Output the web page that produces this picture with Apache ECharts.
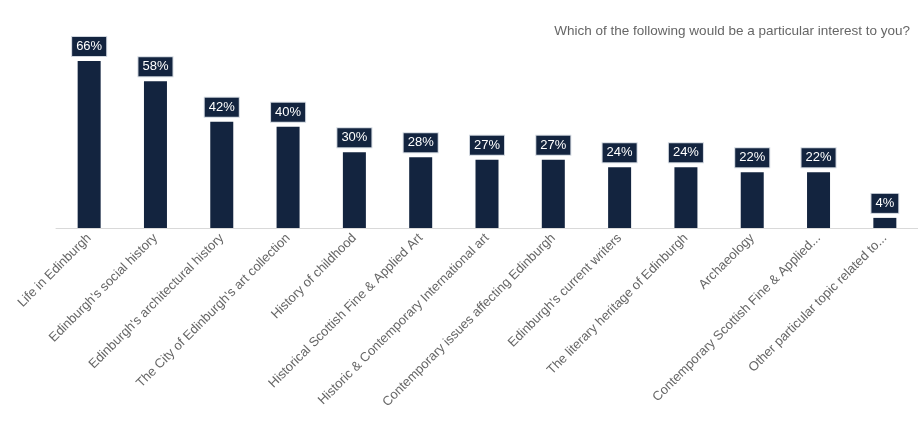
<!DOCTYPE html>
<html><head><meta charset="utf-8">
<script src="https://cdn.jsdelivr.net/npm/echarts@6/dist/echarts.min.js"></script>
<style>html,body{margin:0;padding:0;background:#fff}#c{width:918px;height:421px}</style>
</head><body><div id="c"></div>
<script>
const categories = ["Life in Edinburgh","Edinburgh's social history","Edinburgh's architectural history","The City of Edinburgh's art collection","History of childhood","Historical Scottish Fine & Applied Art","Historic & Contemporary International art","Contemporary issues affecting Edinburgh","Edinburgh's current writers","The literary heritage of Edinburgh","Archaeology","Contemporary Scottish Fine & Applied...","Other particular topic related to..."];
const values = [66,58,42,40,30,28,27,27,24,24,22,22,4];
const titleText = "Which of the following would be a particular interest to you?";
const chart = echarts.init(document.getElementById('c'));
chart.setOption({
  animation:false,
  textStyle:{fontFamily:'Liberation Sans, Arial, sans-serif'},
  title:{text:titleText,right:3,top:19,textStyle:{fontSize:13.5,fontWeight:'normal',color:'#666',fontFamily:'Liberation Sans, Arial, sans-serif'}},
  grid:{left:56,width:865,top:51,height:177},
  xAxis:{type:'category',data:categories,
    axisLine:{lineStyle:{color:'#d9d9d9'}},axisTick:{show:false},
    axisLabel:{rotate:45,interval:0,color:'#666',fontSize:13,margin:8}},
  yAxis:{type:'value',min:0,max:70,show:false,splitLine:{show:false}},
  series:[{type:'bar',data:values,barWidth:23,itemStyle:{color:'#13243f'},
    label:{show:true,position:'top',distance:5,formatter:'{c}%',color:'#fff',fontSize:13,
      backgroundColor:'#13243f',borderColor:'#d0d6de',borderWidth:1,padding:[3,4,3,4]}}]
});
</script></body></html>
